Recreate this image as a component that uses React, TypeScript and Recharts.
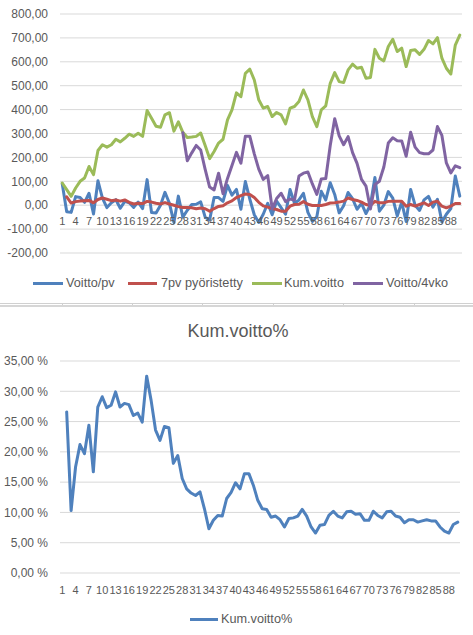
import React from 'react';
import { LineChart, Line, XAxis, YAxis, CartesianGrid } from 'recharts';

// ---- data ----
const days: number[] = Array.from({ length: 90 }, (_, i) => i + 1);
const tickDays = [1, 4, 7, 10, 13, 16, 19, 22, 25, 28, 31, 34, 37, 40, 43, 46, 49, 52, 55, 58, 61, 64, 67, 70, 73, 76, 79, 82, 85, 88];

const voittoPv = [
  90, -27, -30, 36, 32, 12, 50, -37, 102, 30,
  -10, 10, 23, -13, 16, 10, -9, 13, -14, 107,
  -31, -33, 0, 54, 8, -72, 38, -50, -21, 3,
  4, 14, -50, -62, 32, 32, 16, 83, 42, 66,
  -17, 99, 25, -40, -72, -38, 8, -40, 17, -10,
  -38, 66, 8, 22, 50, -30, -68, -48, 58, 22,
  94, 45, -32, -2, 53, 27, -17, 8, -35, 2,
  116, -25, 0, 57, 30, -45, 12, -68, 66, 0,
  -22, 22, 37, -8, 25, -70, -38, -14, 122, 38,
];

const pv7 = [
  null, 35, 9, 15, 18, 19, 20, 10, 24, 30,
  25, 19, 22, 17, 22, 12, 5, 8, 7, 16,
  13, 8, 5, 11, 5, 0, -6, -10, -10, -11,
  -15, -12, -15, -25, -14, -5, -2, 10, 18, 32,
  40, 47, 45, 32, 12, -3, -8, -14, -18, -25,
  -25, -4, 3, 4, 15, 4, -1, -1, -1, 3,
  9, 10, 13, 17, 30, 24, 20, 13, 3, -1,
  16, 10, 10, 16, 17, 17, 17, -4, 3, -4,
  3, 10, -1, 13, 17, -4, -11, -4, 7, 7,
];

const kumVoitto = [
  93, 65, 37, 72, 100, 114, 162, 128, 229, 253,
  243, 253, 276, 265, 280, 297, 288, 301, 288, 396,
  364, 330, 326, 378, 387, 310, 349, 305, 283, 285,
  288, 302, 250, 195, 225, 260, 276, 357, 399, 470,
  454, 552, 569, 524, 441, 406, 413, 371, 388, 378,
  340, 406, 413, 434, 482, 441, 371, 329, 399, 416,
  510, 555, 517, 513, 566, 590, 573, 577, 531, 534,
  652, 615, 604, 664, 694, 643, 657, 580, 647, 650,
  631, 652, 689, 675, 701, 615, 573, 549, 670, 712,
];

const voitto4vko = [
  null, null, null, null, null, null, null, null, null, null,
  null, null, null, null, null, null, null, null, null, null,
  null, null, null, null, null, null, null, 303, 186, 219,
  250, 231, 150, 76, 64, 134, 48, 112, 166, 221,
  176, 289, 288, 215, 151, 108, 124, -15, 28, 50,
  15, 26, 22, 122, 134, 139, 89, 45, 110, 112,
  250, 362, 290, 253, 287, 220, 175, 108, 80, -16,
  86, 100, 160, 260, 282, 270, 269, 205, 305, 243,
  220, 215, 215, 231, 329, 292, 177, 135, 165, 157,
];

const kumVoittoPct = [
  null, 26.6, 10.3, 17.5, 21.2, 19.7, 24.4, 16.7, 27.4, 29.1,
  27.3, 27.7, 29.9, 27.4, 28.0, 27.8, 26.0, 26.4, 24.9, 32.5,
  28.5, 23.6, 21.9, 24.2, 24.0, 18.1, 19.4, 15.6, 13.9, 13.2,
  12.8, 13.4, 10.6, 7.3, 8.7, 9.5, 9.4, 12.3, 13.3, 14.9,
  13.9, 16.4, 16.4, 14.5, 12.0, 10.6, 10.5, 9.2, 9.4, 8.8,
  7.6, 9.0, 9.1, 9.4, 10.5, 9.4, 7.6, 6.6, 7.9, 8.0,
  9.5, 10.2, 9.4, 9.1, 10.1, 10.2, 9.7, 9.8, 8.7, 8.7,
  10.2, 9.5, 9.1, 10.1, 10.2, 9.4, 9.2, 8.3, 8.8, 8.8,
  8.4, 8.6, 8.8, 8.6, 8.6, 7.6, 6.9, 6.6, 8.0, 8.4,
];

const topTicks = [-200, -100, 0, 100, 200, 300, 400, 500, 600, 700, 800];
const pctTicks = [0, 5, 10, 15, 20, 25, 30, 35];

const seriesNames = ['Voitto/pv', '7pv pyöristetty', 'Kum.voitto', 'Voitto/4vko'];
const seriesColors = ['#4F81BD', '#C0504D', '#9BBB59', '#8064A2'];
const pctName = 'Kum.voitto%';

const topData = days.map((d, i) => ({
  day: d,
  pv: voittoPv[i],
  r7: pv7[i],
  kum: kumVoitto[i],
  v4: voitto4vko[i],
}));
const pctData = days.map((d, i) => ({ day: d, pct: kumVoittoPct[i] }));

// ---- layout ----
const FONT = '"Liberation Sans", Arial, sans-serif';
const GRAY = '#595959';
const GRID = '#D9D9D9';
const W = 473;
const TOP_H = 300;
const TOP_MARGIN = { top: 14, right: 11, bottom: 17, left: 0 };
const TOP_PLOT_H = TOP_H - TOP_MARGIN.top - TOP_MARGIN.bottom - 30;
const Y_MIN = -200;
const Y_MAX = 800;
const ZERO_Y = TOP_MARGIN.top + (TOP_PLOT_H * (Y_MAX - 0)) / (Y_MAX - Y_MIN);

const fmt2 = (v: number) => v.toFixed(2).replace('.', ',');
const fmtPct = (v: number) => v.toFixed(2).replace('.', ',') + ' %';

const TopXTick = (props: any) => {
  const { x, payload } = props;
  return (
    <text x={x} y={ZERO_Y + 12} dy="0.71em" textAnchor="middle" fill={GRAY} fontSize={11} fontFamily={FONT}>
      {payload.value}
    </text>
  );
};

const LegendItem = ({ left, textLeft, top, width, color, label }: any) => (
  <>
    <div style={{ position: 'absolute', left, top: top - 1.5, width, height: 3, background: color }} />
    <div
      style={{
        position: 'absolute',
        left: textLeft,
        top: top - 8,
        lineHeight: '16px',
        fontSize: 12.7,
        color: GRAY,
        whiteSpace: 'nowrap',
      }}
    >
      {label}
    </div>
  </>
);

export default function App() {
  const lineProps = {
    type: 'linear' as const,
    dot: false,
    isAnimationActive: false,
    strokeWidth: 3,
    strokeLinejoin: 'round' as const,
    strokeLinecap: 'round' as const,
  };
  const topLegend = [
    { left: 33, textLeft: 66, width: 30 },
    { left: 128, textLeft: 161, width: 29 },
    { left: 252, textLeft: 284, width: 30 },
    { left: 353, textLeft: 386, width: 30 },
  ];
  return (
    <div
      style={{
        position: 'absolute',
        left: 0,
        top: 0,
        width: W,
        height: 635,
        background: '#fff',
        fontFamily: FONT,
        overflow: 'hidden',
      }}
    >
      {/* top chart */}
      <div style={{ position: 'absolute', left: 0, top: 0 }}>
        <LineChart width={W} height={TOP_H} data={topData} margin={TOP_MARGIN}>
          <CartesianGrid vertical={false} stroke={GRID} strokeWidth={1} />
          <XAxis
            dataKey="day"
            type="number"
            domain={[0.5, 90.5]}
            ticks={tickDays}
            interval={0}
            allowDataOverflow
            axisLine={false}
            tickLine={false}
            height={30}
            tick={<TopXTick />}
          />
          <YAxis
            type="number"
            domain={[Y_MIN, Y_MAX]}
            ticks={topTicks}
            interval={0}
            width={60}
            axisLine={false}
            tickLine={false}
            tickMargin={6}
            tickFormatter={fmt2}
            tick={{ fill: GRAY, fontSize: 12, fontFamily: FONT }}
          />
          <Line {...lineProps} dataKey="pv" name={seriesNames[0]} stroke={seriesColors[0]} />
          <Line {...lineProps} dataKey="r7" name={seriesNames[1]} stroke={seriesColors[1]} />
          <Line {...lineProps} dataKey="kum" name={seriesNames[2]} stroke={seriesColors[2]} />
          <Line {...lineProps} dataKey="v4" name={seriesNames[3]} stroke={seriesColors[3]} />
        </LineChart>
      </div>
      {topLegend.map((l, i) => (
        <LegendItem key={i} {...l} top={283} color={seriesColors[i]} label={seriesNames[i]} />
      ))}

      {/* separator between charts */}
      <div style={{ position: 'absolute', left: 0, top: 303, width: W, height: 1, background: '#D0D0D0' }} />
      <div style={{ position: 'absolute', left: 0, top: 305, width: W, height: 2, background: '#D6D6D6' }} />
      {[62, 132, 202, 273, 343, 414].map((x) => (
        <div key={x} style={{ position: 'absolute', left: x, top: 304, width: 1, height: 1, background: '#D0D0D0' }} />
      ))}

      {/* bottom chart */}
      <div
        style={{
          position: 'absolute',
          left: 0,
          top: 320,
          width: 476,
          textAlign: 'center',
          fontSize: 18,
          lineHeight: '22px',
          color: GRAY,
        }}
      >
        {pctName}
      </div>
      <div style={{ position: 'absolute', left: 0, top: 306 }}>
        <LineChart width={W} height={329} data={pctData} margin={{ top: 55, right: 13, bottom: 32, left: 0 }}>
          <CartesianGrid vertical={false} stroke={GRID} strokeWidth={1} />
          <XAxis
            dataKey="day"
            type="number"
            domain={[0.5, 90.5]}
            ticks={tickDays}
            interval={0}
            allowDataOverflow
            axisLine={false}
            tickLine={false}
            height={30}
            tickMargin={7}
            tick={{ fill: GRAY, fontSize: 11, fontFamily: FONT }}
          />
          <YAxis
            type="number"
            domain={[0, 35]}
            ticks={pctTicks}
            interval={0}
            width={60}
            axisLine={false}
            tickLine={false}
            tickMargin={6}
            tickFormatter={fmtPct}
            tick={{ fill: GRAY, fontSize: 12, fontFamily: FONT }}
          />
          <Line {...lineProps} dataKey="pct" name={pctName} stroke={seriesColors[0]} />
        </LineChart>
      </div>
      <LegendItem left={190} textLeft={221} width={28} top={619} color={seriesColors[0]} label={pctName} />
    </div>
  );
}
